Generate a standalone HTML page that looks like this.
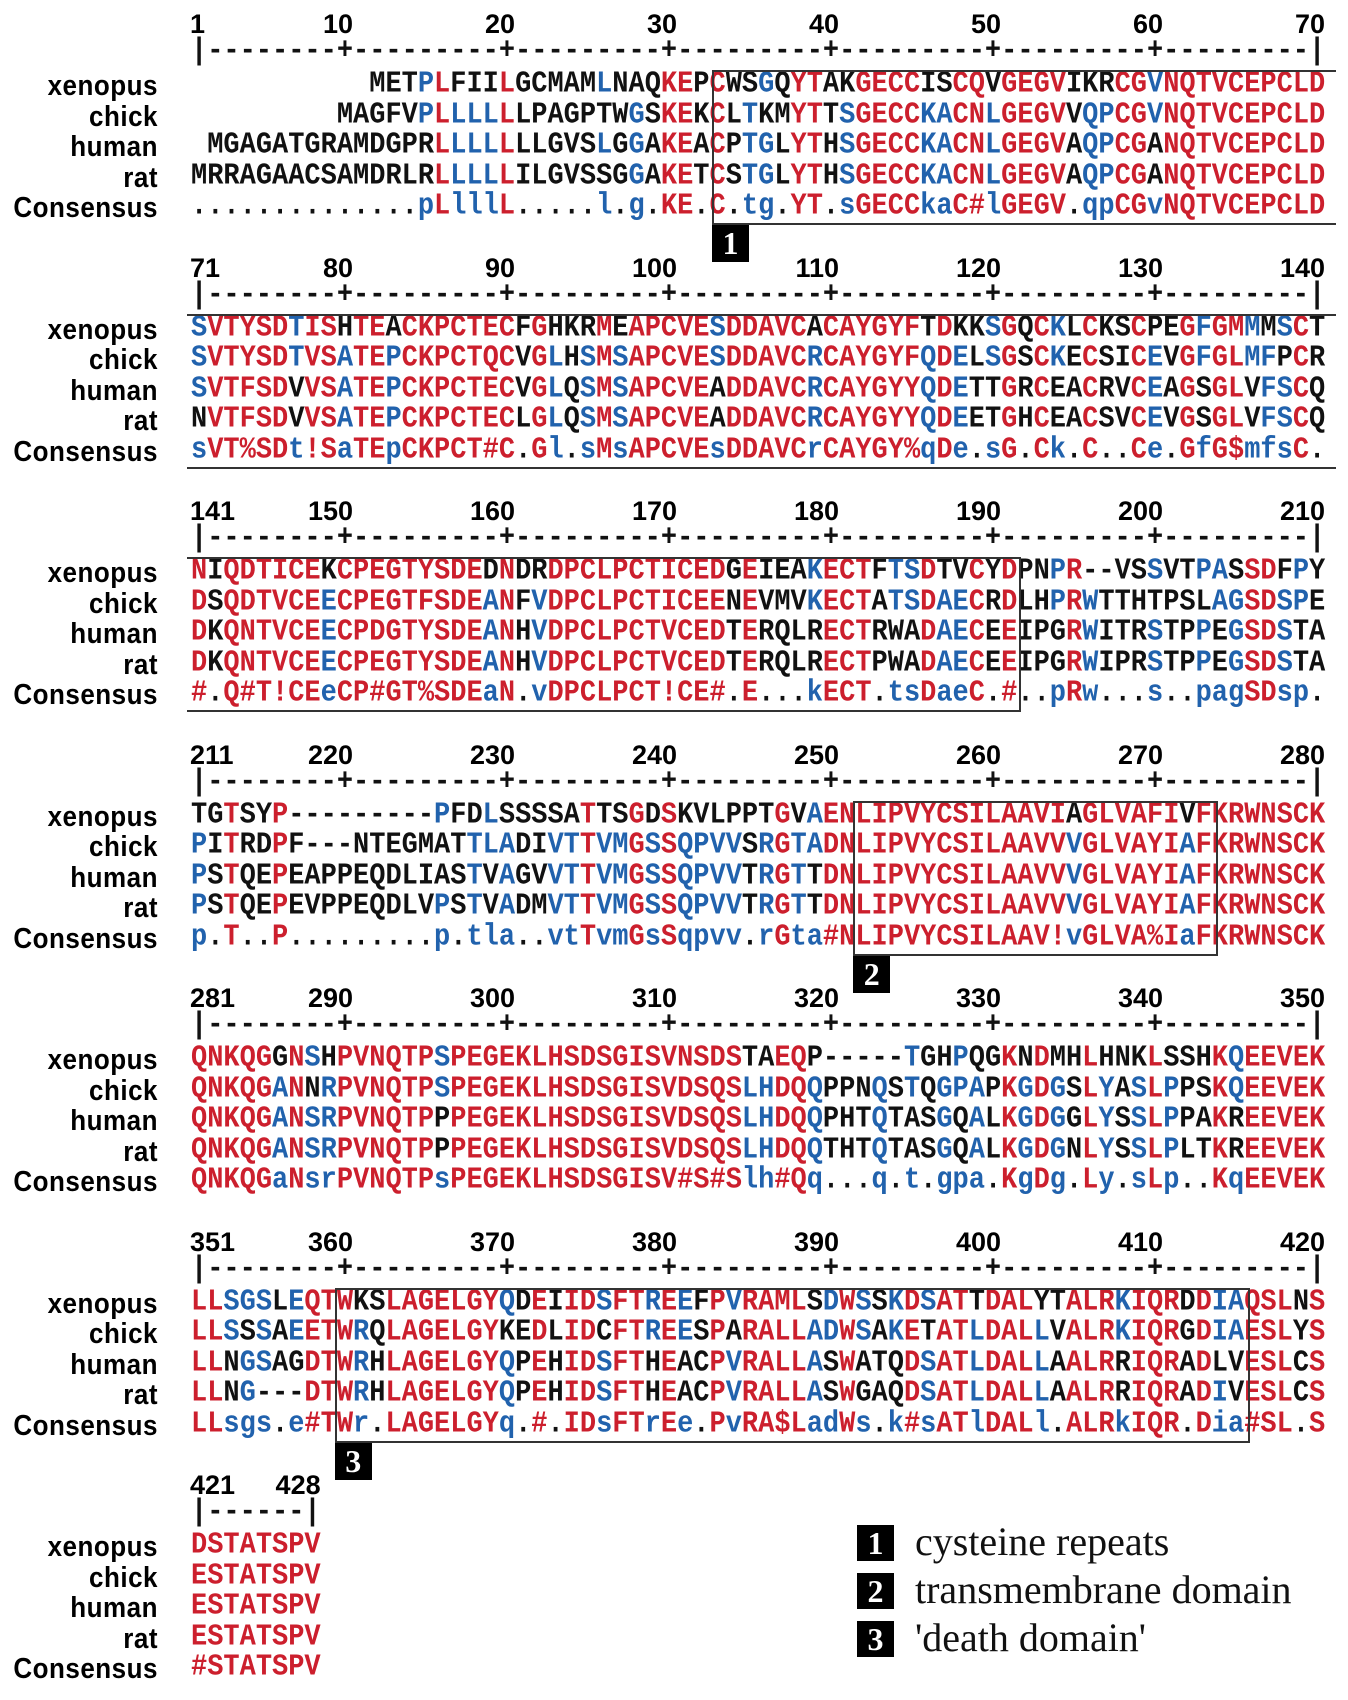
<!DOCTYPE html>
<html><head><meta charset="utf-8"><style>
html,body{margin:0;padding:0;background:#fff}
#page{position:relative;width:1348px;height:1700px;overflow:hidden;background:#fff}
.mono{position:absolute;font-family:"Liberation Mono",monospace;font-weight:bold;font-size:27px;line-height:30px;white-space:pre;height:30px;transform:scaleY(1.12);transform-origin:0 50%}
.lab{position:absolute;right:1190px;width:160px;text-align:right;font-family:"Liberation Sans",sans-serif;font-weight:bold;font-size:26px;line-height:30px;height:30px;letter-spacing:0.5px;transform:scaleY(1.1)}
.num{position:absolute;font-family:"Liberation Sans Narrow","Liberation Sans",sans-serif;font-weight:bold;font-size:27px;line-height:30px;height:30px;white-space:nowrap}
.ln{position:absolute;background:#333}
.tag{position:absolute;width:37px;height:37px;background:#000;color:#fff;font-family:"Liberation Serif",serif;font-weight:bold;font-size:32px;line-height:37px;text-align:center}
.leg{position:absolute;font-family:"Liberation Serif",serif;font-size:40px;line-height:40px;white-space:nowrap;color:#111}
</style></head><body>
<div id="page"></div>
<script>
const species = ["xenopus","chick","human","rat"];
const xenopusSeq = ["           METPLFIILGCMAMLNAQKEPCWSGQYTAKGECCISCQVGEGVIKRCGVNQTVCEPCLD","SVTYSDTISHTEACKPCTECFGHKRMEAPCVESDDAVCACAYGYFTDKKSGQCKLCKSCPEGFGMMMSCT","NIQDTICEKCPEGTYSDEDNDRDPCLPCTICEDGEIEAKECTFTSDTVCYDPNPR--VSSVTPASSDFPY","TGTSYP---------PFDLSSSSATTSGDSKVLPPTGVAENLIPVYCSILAAVIAGLVAFIVFKRWNSCK","QNKQGGNSHPVNQTPSPEGEKLHSDSGISVNSDSTAEQP-----TGHPQGKNDMHLHNKLSSHKQEEVEK","LLSGSLEQTWKSLAGELGYQDEIIDSFTREEFPVRAMLSDWSSKDSATTDALYTALRKIQRDDIAQSLNS","DSTATSPV"];
const chickSeq = ["         MAGFVPLLLLLLPAGPTWGSKEKCLTKMYTTSGECCKACNLGEGVVQPCGVNQTVCEPCLD","SVTYSDTVSATEPCKPCTQCVGLHSMSAPCVESDDAVCRCAYGYFQDELSGSCKECSICEVGFGLMFPCR","DSQDTVCEECPEGTFSDEANFVDPCLPCTICEENEVMVKECTATSDAECRDLHPRWTTHTPSLAGSDSPE","PITRDPF---NTEGMATTLADIVTTVMGSSQPVVSRGTADNLIPVYCSILAAVVVGLVAYIAFKRWNSCK","QNKQGANNRPVNQTPSPEGEKLHSDSGISVDSQSLHDQQPPNQSTQGPAPKGDGSLYASLPPSKQEEVEK","LLSSSAEETWRQLAGELGYKEDLIDCFTREESPARALLADWSAKETATLDALLVALRKIQRGDIAESLYS","ESTATSPV"];
const humanSeq = [" MGAGATGRAMDGPRLLLLLLLGVSLGGAKEACPTGLYTHSGECCKACNLGEGVAQPCGANQTVCEPCLD","SVTFSDVVSATEPCKPCTECVGLQSMSAPCVEADDAVCRCAYGYYQDETTGRCEACRVCEAGSGLVFSCQ","DKQNTVCEECPDGTYSDEANHVDPCLPCTVCEDTERQLRECTRWADAECEEIPGRWITRSTPPEGSDSTA","PSTQEPEAPPEQDLIASTVAGVVTTVMGSSQPVVTRGTTDNLIPVYCSILAAVVVGLVAYIAFKRWNSCK","QNKQGANSRPVNQTPPPEGEKLHSDSGISVDSQSLHDQQPHTQTASGQALKGDGGLYSSLPPAKREEVEK","LLNGSAGDTWRHLAGELGYQPEHIDSFTHEACPVRALLASWATQDSATLDALLAALRRIQRADLVESLCS","ESTATSPV"];
const ratSeq = ["MRRAGAACSAMDRLRLLLLLILGVSSGGAKETCSTGLYTHSGECCKACNLGEGVAQPCGANQTVCEPCLD","NVTFSDVVSATEPCKPCTECLGLQSMSAPCVEADDAVCRCAYGYYQDEETGHCEACSVCEVGSGLVFSCQ","DKQNTVCEECPEGTYSDEANHVDPCLPCTVCEDTERQLRECTPWADAECEEIPGRWIPRSTPPEGSDSTA","PSTQEPEVPPEQDLVPSTVADMVTTVMGSSQPVVTRGTTDNLIPVYCSILAAVVVGLVAYIAFKRWNSCK","QNKQGANSRPVNQTPPPEGEKLHSDSGISVDSQSLHDQQTHTQTASGQALKGDGNLYSSLPLTKREEVEK","LLNG---DTWRHLAGELGYQPEHIDSFTHEACPVRALLASWGAQDSATLDALLAALRRIQRADIVESLCS","ESTATSPV"];
const consensusSeq = ["..............pLlllL.....l.g.KE.C.tg.YT.sGECCkaC#lGEGV.qpCGvNQTVCEPCLD","sVT%SDt!SaTEpCKPCT#C.Gl.sMsAPCVEsDDAVCrCAYGY%qDe.sG.Ck.C..Ce.GfG$mfsC.","#.Q#T!CEeCP#GT%SDEaN.vDPCLPCT!CE#.E...kECT.tsDaeC.#..pRw...s..pagSDsp.","p.T..P.........p.tla..vtTvmGsSqpvv.rGta#NLIPVYCSILAAV!vGLVA%IaFKRWNSCK","QNKQGaNsrPVNQTPsPEGEKLHSDSGISV#S#Slh#Qq...q.t.gpa.KgDg.Ly.sLp..KqEEVEK","LLsgs.e#TWr.LAGELGYq.#.IDsFTrEe.PvRA$LadWs.k#sATlDALl.ALRkIQR.Dia#SL.S","#STATSPV"];
const blockStarts = [1,71,141,211,281,351,421];
const domainNames = ["cysteine repeats","transmembrane domain","'death domain'"];

const RED="#cc1f2d", BLUE="#2162ad", BLACK="#111";
const PITCH=16.2, X0=191, BLOCKH=243.5;
const groups={"!":"IV","$":"LM","%":"FY","#":"NDQEBZ"};
const page=document.getElementById('page');
function colX(i){return X0+i*PITCH;}
function consColor(c){if(c==='.'||c===' ')return BLACK; if(groups[c])return RED; return c===c.toUpperCase()?RED:BLUE;}
function resColor(r,c){
  if(r==='-'||r===' '||c==='.')return BLACK;
  if(groups[c])return groups[c].indexOf(r)>=0?RED:BLACK;
  if(r.toUpperCase()===c.toUpperCase())return c===c.toUpperCase()?RED:BLUE;
  return BLACK;
}
function mk(cls,name,left,top){const d=document.createElement('div');d.className=cls;


d.style.left=left+'px';d.style.top=top+'px';page.appendChild(d);return d;}
function line(name,x,y,w,h){const d=mk('ln',name,x,y);d.style.width=w+'px';d.style.height=h+'px';return d;}

const seqs=[xenopusSeq,chickSeq,humanSeq,ratSeq];
blockStarts.forEach((s,b)=>{
  const yb=b*BLOCKH;
  const n=consensusSeq[b].length;
  const nums=[[s,'left']];
  for(let c=Math.ceil((s+1)/10)*10;c<s+n;c+=10)nums.push([c,'right']);
  if((s+n-1)%10!==0)nums.push([s+n-1,'right']);
  nums.forEach(([c,al])=>{
    const d=mk('num','position-number',0,yb+9);
    d.textContent=String(c);
    const i=c-s;
    if(al==='left'){d.style.left=(colX(i)-1)+'px';}
    else{d.style.left='auto';d.style.right=(1348-(colX(i)+PITCH))+'px';}
  });
  let r='';
  for(let i=0;i<n;i++){const c=s+i;r+=(i===0||i===n-1)?'|':(c%10===0?'+':'-');}
  const rd=mk('mono','ruler',X0,yb+37);rd.textContent=r;rd.style.color=BLACK;
  const rows=species.concat(['Consensus']);
  rows.forEach((sp,k)=>{
    const y=yb+70+k*30.5;
    const l=mk('lab',sp+'-label',0,y);l.style.left='auto';l.textContent=sp;
    const row=mk('mono',sp+'-sequence-row',X0,y);
    const str=k<4?seqs[k][b]:consensusSeq[b];
    for(let i=0;i<str.length;i++){
      const sp2=document.createElement('span');
      
      
      const ch=str[i];
      sp2.textContent=ch;
      sp2.style.color=k<4?resColor(ch,consensusSeq[b][i]):consColor(ch);
      row.appendChild(sp2);
    }
  });
});
function boxH(name,x1,x2,ytop,ybot){line(name+'-top',x1,ytop,x2-x1,2);line(name+'-bottom',x1,ybot,x2-x1,2);}
boxH('cysteine-box-1',712,1336,70,223);line('cysteine-box-left',712,70,2,155);
boxH('cysteine-box-2',187,1336,BLOCKH+70,BLOCKH+223);
boxH('cysteine-box-3',187,colX(51)+2,2*BLOCKH+70,2*BLOCKH+223);line('cysteine-box-right',colX(51)+2,2*BLOCKH+70,2,155);
const tmL=colX(41)-2,tmR=colX(63)+4;
boxH('transmembrane-box',tmL,tmR,3*BLOCKH+70,3*BLOCKH+223);line('transmembrane-box-left',tmL,3*BLOCKH+70,2,155);line('transmembrane-box-right',tmR,3*BLOCKH+70,2,155);
const ddL=colX(9)-2,ddR=colX(65)+4;
boxH('death-domain-box',ddL,ddR,5*BLOCKH+70,5*BLOCKH+223);line('death-box-left',ddL,5*BLOCKH+70,2,155);line('death-box-right',ddR,5*BLOCKH+70,2,155);
[[712,225,'1'],[tmL,3*BLOCKH+225,'2'],[ddL,5*BLOCKH+225,'3']].forEach(t=>{const d=mk('tag','domain-tag-'+t[2],t[0],t[1]);d.textContent=t[2];});
domainNames.forEach((nm,i)=>{
  const y=1525+i*48;
  const t=mk('tag','legend-tag-'+(i+1),857,y);t.style.height='36px';t.style.lineHeight='36px';t.textContent=String(i+1);
  const l=mk('leg','legend-entry-'+(i+1),915,y-3);l.textContent=nm;
});
</script>
</body></html>
